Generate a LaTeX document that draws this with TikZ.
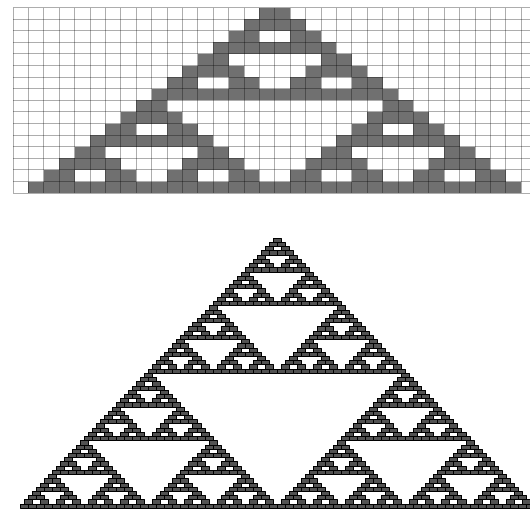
\documentclass[tikz,border=0pt]{standalone}
\newcount\ca \newcount\cb
\newif\ifcellon
% binom(#1,#2) odd <=> no common bits in k and n-k
\def\testcell#1#2{\ca=#2\relax \cb=\numexpr#1-#2\relax \cellontrue
	\loop\ifnum\ca>0
	\ifodd\ca \ifodd\cb \cellonfalse\fi\fi
	\divide\ca by 2 \divide\cb by 2
	\repeat}
\begin{document}
\begin{tikzpicture}[x=1pt,y=-1pt, line join=round,
	livecell/.style={fill=black!56},
	gridline/.style={draw=black, opacity=.32, line width=.9pt},
	meshcell/.style={fill=black!68, draw=black, line width=.4pt}]
	\useasboundingbox (0,0) rectangle (530,514);
	\clip (0,0) rectangle (530,514);
	% Rule 90, 16 steps
	\def\cw{15.4} \def\ch{11.6} \def\xo{13} \def\yo{7.5}
	\foreach \n in {0,...,15}
	\foreach \k in {0,...,\n}{
		\testcell{\n}{\k}
		\ifcellon \fill[livecell] ({\xo+(16-\n+2*\k)*\cw},{\yo+\n*\ch}) rectangle ++({2*\cw},\ch); \fi
	}
	\foreach \i in {0,...,34} \draw[gridline] ({\xo+\i*\cw},\yo) -- ++(0,{16*\ch});
	\foreach \j in {0,...,16} \draw[gridline] (\xo,{\yo+\j*\ch}) -- ++({34*\cw},0);
	% 64 steps
	\def\tw{8.03} \def\th{4.22} \def\tx{277} \def\ty{238}
	\foreach \n in {0,...,63}
	\foreach \k in {0,...,\n}{
		\testcell{\n}{\k}
		\ifcellon \filldraw[meshcell] ({\tx-(\n+1)*\tw/2+\k*\tw},{\ty+\n*\th}) rectangle ++(\tw,\th); \fi
	}
\end{tikzpicture}
\end{document}
